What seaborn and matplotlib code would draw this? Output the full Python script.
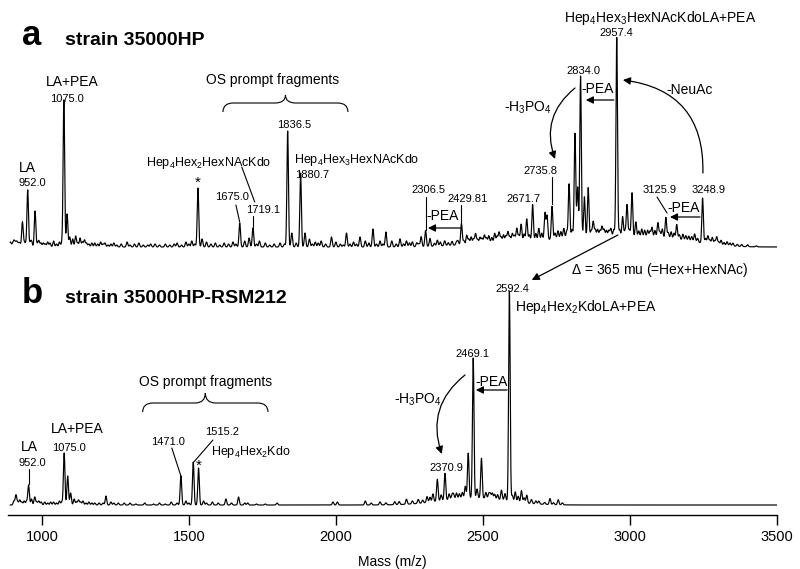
import numpy as np
import pandas as pd
import matplotlib
matplotlib.use("Agg")
import matplotlib.pyplot as plt
import seaborn as sns
from matplotlib.patches import ConnectionPatch, PathPatch
from matplotlib.path import Path

sns.set_theme(style="white")
plt.rcParams['font.family'] = ['Liberation Sans', 'DejaVu Sans']
plt.rcParams['mathtext.fontset'] = 'custom'
plt.rcParams['mathtext.rm'] = 'Liberation Sans'
plt.rcParams['mathtext.default'] = 'regular'
plt.rcParams['text.color'] = 'black'
plt.rcParams['axes.labelcolor'] = 'black'
plt.rcParams['xtick.color'] = 'black'

# --- peak lists (m/z, relative height) ---
top_mz = [893, 905, 915, 925, 934, 952, 965, 977, 990, 1005, 1020, 1040, 1060,
          1075, 1086, 1095, 1105, 1115, 1130, 1145, 1180, 1200, 1215, 1245, 1290,
          1330, 1370, 1420, 1460, 1490, 1510, 1531, 1545, 1560, 1590, 1620, 1650,
          1673, 1690, 1705, 1718, 1740, 1760, 1790, 1810, 1836, 1850, 1880, 1895,
          1910, 1930, 1950, 1985, 2000, 2036, 2060, 2082, 2100, 2126, 2150, 2170,
          2190, 2218, 2240, 2260, 2290, 2305, 2320, 2345, 2370, 2395, 2427, 2445,
          2460, 2475, 2490, 2505, 2520, 2540, 2555, 2570, 2585, 2600, 2615, 2630,
          2649, 2669, 2690, 2711, 2718, 2735, 2755, 2775, 2793, 2813, 2822, 2832,
          2845, 2858, 2875, 2890, 2905, 2920, 2935, 2955, 2975, 2990, 3007, 3020,
          3040, 3060, 3075, 3095, 3110, 3122, 3140, 3159, 3180, 3200, 3220, 3247,
          3265, 3280, 3295, 3310, 3330, 3350, 3380]
top_int = [5, 6, 5, 4, 25, 57, 6, 36, 6, 4, 5, 6, 5,
           147, 33, 10, 8, 11, 9, 7, 4, 5, 4, 4, 5,
           4, 3, 3, 4, 5, 6, 59, 8, 5, 4, 4, 5,
           24, 6, 9, 19, 6, 4, 3, 4, 116, 14, 74, 14,
           8, 5, 6, 10, 5, 14, 5, 10, 6, 18, 6, 15,
           6, 8, 6, 5, 10, 16, 8, 6, 5, 4, 21, 9,
           7, 10, 6, 8, 7, 9, 10, 7, 10, 8, 13, 17,
           22, 36, 12, 27, 24, 33, 8, 10, 54, 104, 50, 161,
           40, 49, 15, 7, 10, 6, 8, 199, 20, 32, 44, 15,
           8, 7, 10, 15, 9, 21, 7, 15, 6, 5, 8, 45,
           8, 7, 8, 5, 4, 3, 2]
# small baseline ripples of trace a
top_minor_mz = [900, 910, 920, 940, 945, 960, 985, 997, 1012, 1028, 1050, 1068,
                1122, 1138, 1152, 1160, 1170, 1190, 1208, 1225, 1235, 1255, 1270,
                1300, 1315, 1345, 1360, 1385, 1400, 1435, 1450, 1475, 1500, 1520,
                1575, 1605, 1635, 1660, 1730, 1775, 1825, 1865, 1920, 1940, 1965,
                2015, 2025, 2048, 2070, 2112, 2138, 2160, 2205, 2230, 2250, 2275,
                2282, 2335, 2355, 2382, 2410, 2415, 2435, 2452, 2468, 2482, 2497,
                2512, 2530, 2548, 2562, 2578, 2592, 2607, 2622, 2640, 2658, 2680,
                2700, 2745, 2765, 2785, 2803, 2868, 2882, 2898, 2912, 2928, 2945,
                2965, 2983, 2998, 3030, 3050, 3068, 3085, 3102, 3130, 3150, 3168,
                3190, 3210, 3230, 3257, 3272, 3288, 3302, 3320, 3340, 3365, 3400,
                3430]
top_minor_int = [3, 4, 3, 4, 3, 4, 3, 4, 3, 4, 3, 4,
                 4, 5, 4, 3, 4, 3, 3, 2, 3, 2, 3,
                 2, 3, 2, 2, 3, 2, 2, 3, 2, 3, 3,
                 3, 2, 3, 3, 3, 2, 3, 4, 3, 4, 3,
                 3, 2, 3, 3, 4, 3, 3, 3, 3, 4, 4,
                 3, 3, 4, 3, 3, 4, 4, 5, 5, 4, 5,
                 5, 5, 6, 5, 6, 5, 6, 6, 7, 6, 7,
                 7, 6, 7, 7, 8, 6, 7, 6, 7, 6, 7,
                 7, 6, 7, 6, 7, 6, 7, 6, 6, 6, 5,
                 5, 5, 4, 5, 4, 4, 3, 3, 3, 2, 2,
                 1]
top_broad_mz = [2560, 2880, 3130]
top_broad_int = [4, 10, 6]
top_broad_width = [120, 150, 110]

bot_mz = [905, 912, 925, 940, 955, 965, 976, 990, 1010, 1040, 1060, 1076, 1088,
          1098, 1110, 1125, 1140, 1160, 1180, 1218, 1235, 1260, 1300, 1350, 1400,
          1440, 1473, 1490, 1515, 1533, 1550, 1580, 1626, 1669, 1700, 1800, 1990,
          2005, 2100, 2150, 2200, 2240, 2280, 2310, 2330, 2345, 2371, 2385, 2400,
          2420, 2440, 2450, 2467, 2480, 2495, 2510, 2525, 2540, 2563, 2575, 2590,
          2610, 2631, 2649, 2665, 2690, 2728, 2756]
bot_int = [4, 10, 5, 4, 20, 6, 8, 4, 3, 3, 4, 52, 29,
           12, 6, 5, 4, 3, 2, 9, 3, 2, 2, 2, 2,
           3, 29, 4, 43, 37, 4, 3, 6, 8, 2, 2, 3,
           3, 4, 3, 3, 5, 4, 6, 8, 22, 27, 6, 5,
           5, 12, 45, 140, 9, 40, 6, 5, 5, 10, 7, 210,
           10, 12, 8, 4, 3, 6, 5]
bot_minor_mz = [918, 932, 948, 983, 998, 1020, 1030, 1050, 1068, 1118, 1132, 1150,
                1170, 1195, 1208, 1245, 1280, 1320, 1380, 1420, 1460, 1500, 1560,
                1600, 1645, 1690, 1730, 1760, 2120, 2170, 2215, 2260, 2295, 2320,
                2358, 2395, 2410, 2430, 2520, 2532, 2550, 2600, 2620, 2640, 2680,
                2710, 2740, 2770]
bot_minor_int = [3, 3, 4, 3, 3, 2, 3, 2, 3, 3, 3, 2,
                 2, 2, 2, 2, 2, 1, 1, 1, 2, 2, 2,
                 2, 2, 2, 1, 1, 2, 2, 3, 3, 3, 5,
                 6, 5, 6, 6, 5, 6, 5, 6, 6, 5, 3,
                 2, 2, 2]
bot_broad_mz = [2470]
bot_broad_int = [7]
bot_broad_width = [110]

xticks = [1000, 1500, 2000, 2500, 3000, 3500]


def profile(mz, inten, bmz, bint, bwid):
    grid = np.arange(892, 3500.5, 0.5)
    y = np.zeros_like(grid)
    for m, h in zip(mz, inten):
        y += h * np.exp(-0.5 * ((grid - m) / 2.6) ** 2)
    for m, h, w in zip(bmz, bint, bwid):
        y += h * np.exp(-0.5 * ((grid - m) / w) ** 2)
    return pd.DataFrame({'mz': grid, 'intensity': y})


top_df = profile(top_mz + top_minor_mz, top_int + top_minor_int,
                 top_broad_mz, top_broad_int, top_broad_width)
bot_df = profile(bot_mz + bot_minor_mz, bot_int + bot_minor_int,
                 bot_broad_mz, bot_broad_int, bot_broad_width)

fig = plt.figure(figsize=(8, 5.69), dpi=100)
W, H = 800, 569
ax1 = fig.add_axes([8 / W, 1 - 255 / H, 769 / W, 245 / H])
ax2 = fig.add_axes([8 / W, 1 - 515 / H, 769 / W, 235 / H])

for ax, df in [(ax1, top_df), (ax2, bot_df)]:
    sns.lineplot(data=df, x='mz', y='intensity', ax=ax, color='black',
                 lw=0.85, estimator=None)
    ax.set_xlim(885, 3500)
    ax.set_ylabel('')
    ax.set_xlabel('')
    ax.set_yticks([])
    for s in ['top', 'left', 'right']:
        ax.spines[s].set_visible(False)

ax1.set_ylim(-8, 237)
ax1.spines['bottom'].set_visible(False)
ax1.set_xticks([])
ax2.set_ylim(-10, 225)
ax2.spines['bottom'].set_color('black')
ax2.spines['bottom'].set_linewidth(1.0)
ax2.set_xticks(xticks)
ax2.tick_params(axis='x', direction='out', length=7, width=1, colors='black',
                labelsize=10.5, pad=4, bottom=True)
ax2.set_xlabel('Mass (m/z)', fontsize=10, labelpad=8)

# panel titles
fig.text(22 / W, 1 - 45 / H, 'a', fontsize=25, weight='bold', va='baseline')
fig.text(65 / W, 1 - 45 / H, 'strain 35000HP', fontsize=14, weight='bold', va='baseline')
fig.text(22 / W, 1 - 303 / H, 'b', fontsize=25, weight='bold', va='baseline')
fig.text(65 / W, 1 - 303 / H, 'strain 35000HP-RSM212', fontsize=14, weight='bold', va='baseline')

big, small = 10, 8


def txt(ax, x, y, s, fs=small):
    ax.text(x, y, s, fontsize=fs, ha='center', va='center', color='black')


def seg(ax, x0, y0, x1, y1):
    ax.plot([x0, x1], [y0, y1], color='black', lw=0.8)


def arrow(ax, x0, y0, x1, y1, rad=0.0):
    ax.annotate('', xy=(x1, y1), xytext=(x0, y0),
                arrowprops=dict(arrowstyle='-|>', color='black', lw=0.9,
                                mutation_scale=11, shrinkA=0, shrinkB=0,
                                connectionstyle=f'arc3,rad={rad}'))


def brace(ax, x0, x1, y, drop, tip):
    xm = (x0 + x1) / 2
    d = 35
    verts = [(x0, y - drop), (x0, y), (x0 + d, y), (xm - d, y), (xm, y), (xm, y + tip),
             (xm, y), (xm + d, y), (x1 - d, y), (x1, y), (x1, y - drop)]
    codes = [Path.MOVETO, Path.CURVE3, Path.CURVE3, Path.LINETO, Path.CURVE3, Path.CURVE3,
             Path.CURVE3, Path.CURVE3, Path.LINETO, Path.CURVE3, Path.CURVE3]
    ax.add_patch(PathPatch(Path(verts, codes), fill=False, lw=0.8, color='black'))


# ---- panel a annotations ----
txt(ax1, 952, 79, 'LA', big)
txt(ax1, 966, 64, '952.0')
txt(ax1, 1105, 165, 'LA+PEA', big)
txt(ax1, 1085, 148, '1075.0')
txt(ax1, 1531, 64, '*', 11)
txt(ax1, 1568, 84, 'Hep$_4$Hex$_2$HexNAcKdo', 9)
seg(ax1, 1680, 80, 1724, 45)
txt(ax1, 1752, 37, '1719.1')
seg(ax1, 1718, 31, 1718, 20)
txt(ax1, 1646, 50, '1675.0')
seg(ax1, 1660, 42, 1673, 25)
txt(ax1, 1857, 122, '1836.5')
txt(ax1, 2071, 87, 'Hep$_4$Hex$_3$HexNAcKdo', 9)
txt(ax1, 1918, 72, '1880.7')
brace(ax1, 1616, 2041, 144, 9, 8)
txt(ax1, 1786, 167, 'OS prompt fragments', big)
txt(ax1, 2316, 57, '2306.5')
seg(ax1, 2305, 50, 2305, 17)
txt(ax1, 2449, 48, '2429.81')
seg(ax1, 2427, 42, 2427, 22)
txt(ax1, 2364, 31, '-PEA', big)
arrow(ax1, 2425, 19, 2313, 19)
txt(ax1, 2639, 48, '2671.7')
txt(ax1, 2697, 76, '2735.8')
seg(ax1, 2735, 70, 2735, 43)
txt(ax1, 2653, 139, '-H$_3$PO$_4$', big)
arrow(ax1, 2813, 159, 2745, 88, rad=0.35)
txt(ax1, 2843, 176, '2834.0')
txt(ax1, 2891, 158, '-PEA', big)
arrow(ax1, 2945, 147, 2850, 147)
txt(ax1, 3102, 229, 'Hep$_4$Hex$_3$HexNAcKdoLA+PEA', big)
txt(ax1, 2952, 214, '2957.4')
txt(ax1, 3204, 157, '-NeuAc', big)
arrow(ax1, 3248, 74, 2976, 167, rad=0.45)
txt(ax1, 3102, 57, '3125.9')
seg(ax1, 3092, 50, 3126, 34)
txt(ax1, 3268, 57, '3248.9')
txt(ax1, 3183, 39, '-PEA', big)
arrow(ax1, 3238, 30, 3136, 30)
txt(ax1, 3102, -23, r'$\Delta$ = 365 mu (=Hex+HexNAc)', big)

con = ConnectionPatch(xyA=(2959, 12), coordsA=ax1.transData,
                      xyB=(2666, 225), coordsB=ax2.transData,
                      arrowstyle='-|>', color='black', lw=0.9, mutation_scale=11)
fig.add_artist(con)

# ---- panel b annotations ----
brace(ax2, 1343, 1769, 102, 9, 10)
txt(ax2, 1558, 123, 'OS prompt fragments', big)
txt(ax2, 959, 58, 'LA', big)
txt(ax2, 966, 42, '952.0')
seg(ax2, 955, 36, 955, 21)
txt(ax2, 1119, 76, 'LA+PEA', big)
txt(ax2, 1094, 57, '1075.0')
txt(ax2, 1429, 63, '1471.0')
seg(ax2, 1442, 57, 1473, 29)
txt(ax2, 1612, 73, '1515.2')
seg(ax2, 1582, 65, 1517, 43)
txt(ax2, 1711, 53, 'Hep$_4$Hex$_2$Kdo', 9)
txt(ax2, 1534, 39, '*', 11)
txt(ax2, 2377, 37, '2370.9')
txt(ax2, 2279, 105, '-H$_3$PO$_4$', big)
arrow(ax2, 2439, 130, 2360, 51, rad=0.35)
txt(ax2, 2464, 151, '2469.1')
txt(ax2, 2530, 123, '-PEA', big)
arrow(ax2, 2582, 115, 2476, 115)
txt(ax2, 2600, 216, '2592.4')
txt(ax2, 2850, 198, 'Hep$_4$Hex$_2$KdoLA+PEA', big)

fig.savefig('out.png', dpi=100, facecolor='white')
